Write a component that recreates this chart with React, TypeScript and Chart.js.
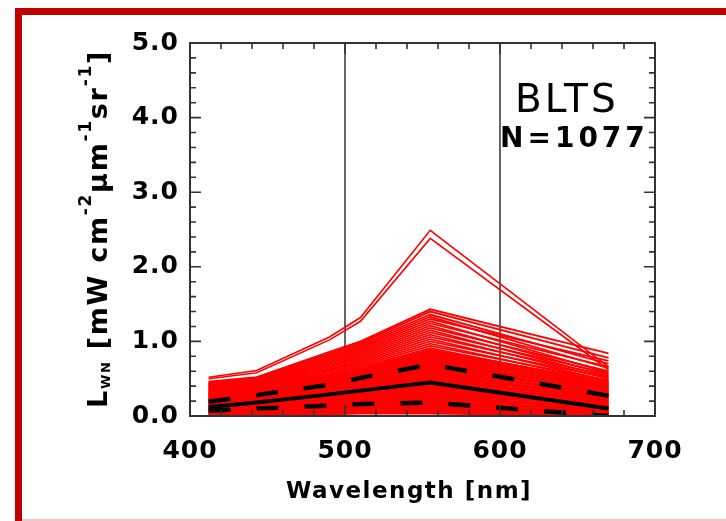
import { useEffect, useRef } from "react";
import { Chart, registerables } from "chart.js";
Chart.register(...registerables);

const W = 726;
const H = 521;

// SeaWiFS-like bands (nm)
const BANDS = [412, 443, 490, 510, 555, 670];
const X_TICKS = [400, 500, 600, 700];
const Y_TICKS = [0, 1, 2, 3, 4, 5];
const REF_LINES = [500, 600];

// statistics (black)
const MEAN = [0.12, 0.18, 0.29, 0.34, 0.45, 0.1];
const MEAN_PLUS_SD = [0.19, 0.28, 0.42, 0.51, 0.69, 0.27];
const MEAN_MINUS_SD = [0.07, 0.1, 0.14, 0.16, 0.18, 0.0];

// individual spectra (red)
const HIGH_SPECTRA = [
  [0.52, 0.61, 1.06, 1.32, 2.49, 0.66],
  [0.5, 0.58, 1.02, 1.27, 2.38, 0.62],
];
const UPPER_SPECTRA = [
  [0.46, 0.52, 0.86, 1.0, 1.43, 0.84],
  [0.45, 0.51, 0.84, 0.98, 1.4, 0.78],
  [0.44, 0.5, 0.82, 0.96, 1.36, 0.7],
  [0.43, 0.49, 0.8, 0.94, 1.33, 0.64],
  [0.42, 0.48, 0.78, 0.92, 1.3, 0.74],
  [0.42, 0.47, 0.76, 0.9, 1.27, 0.58],
  [0.41, 0.46, 0.75, 0.88, 1.24, 0.66],
  [0.4, 0.45, 0.73, 0.86, 1.21, 0.55],
  [0.4, 0.44, 0.71, 0.84, 1.18, 0.6],
  [0.39, 0.44, 0.7, 0.82, 1.15, 0.52],
  [0.38, 0.43, 0.68, 0.8, 1.12, 0.57],
  [0.38, 0.42, 0.67, 0.78, 1.09, 0.5],
  [0.37, 0.41, 0.65, 0.76, 1.06, 0.54],
  [0.36, 0.4, 0.63, 0.74, 1.03, 0.47],
  [0.36, 0.4, 0.62, 0.72, 1.0, 0.51],
  [0.35, 0.39, 0.6, 0.7, 0.97, 0.45],
  [0.34, 0.38, 0.58, 0.68, 0.94, 0.48],
  [0.33, 0.37, 0.56, 0.66, 0.91, 0.43],
];
const LOWER_SPECTRA = [
  [0.32, 0.36, 0.54, 0.63, 0.88, 0.45],
  [0.31, 0.35, 0.52, 0.61, 0.85, 0.41],
  [0.3, 0.34, 0.5, 0.59, 0.82, 0.43],
  [0.29, 0.33, 0.48, 0.57, 0.79, 0.39],
  [0.28, 0.31, 0.46, 0.55, 0.76, 0.4],
  [0.27, 0.3, 0.44, 0.53, 0.73, 0.36],
  [0.26, 0.29, 0.42, 0.51, 0.7, 0.37],
  [0.25, 0.28, 0.4, 0.49, 0.67, 0.33],
  [0.24, 0.27, 0.39, 0.47, 0.64, 0.34],
  [0.23, 0.26, 0.37, 0.45, 0.61, 0.3],
  [0.22, 0.25, 0.35, 0.43, 0.58, 0.31],
  [0.21, 0.24, 0.34, 0.41, 0.55, 0.27],
  [0.2, 0.23, 0.32, 0.39, 0.52, 0.28],
  [0.19, 0.22, 0.31, 0.37, 0.49, 0.24],
  [0.18, 0.21, 0.29, 0.35, 0.46, 0.25],
  [0.17, 0.2, 0.28, 0.33, 0.43, 0.21],
  [0.16, 0.19, 0.26, 0.31, 0.4, 0.22],
  [0.15, 0.18, 0.25, 0.29, 0.37, 0.18],
  [0.14, 0.17, 0.23, 0.27, 0.34, 0.19],
  [0.13, 0.16, 0.22, 0.25, 0.31, 0.15],
  [0.12, 0.15, 0.2, 0.23, 0.28, 0.16],
  [0.11, 0.14, 0.19, 0.21, 0.25, 0.12],
  [0.1, 0.12, 0.17, 0.19, 0.22, 0.13],
  [0.09, 0.11, 0.15, 0.17, 0.19, 0.09],
  [0.08, 0.1, 0.13, 0.15, 0.16, 0.1],
  [0.07, 0.08, 0.11, 0.13, 0.14, 0.06],
  [0.06, 0.07, 0.09, 0.11, 0.12, 0.07],
  [0.05, 0.06, 0.08, 0.09, 0.1, 0.04],
  [0.04, 0.05, 0.06, 0.07, 0.08, 0.05],
  [0.03, 0.04, 0.05, 0.06, 0.07, 0.02],
  [0.02, 0.03, 0.04, 0.05, 0.05, 0.03],
  [0.01, 0.02, 0.03, 0.04, 0.04, 0.01],
];

const LABEL_NAME = "BLTS";
const LABEL_N = "N=1077";
const X_TITLE = "Wavelength [nm]";

const FONT = "'DejaVu Sans', sans-serif";

const toPts = (vals: number[]) => BANDS.map((b, i) => ({ x: b, y: vals[i] }));

const redSet = (vals: number[], w: number) => ({
  data: toPts(vals),
  borderColor: "#ff0000",
  borderWidth: w,
  pointRadius: 0,
  tension: 0,
  order: 10,
});

const framePlugin = {
  id: "frameTicks",
  beforeDraw(chart: any) {
    chart.ctx.letterSpacing = "1px";
  },
  afterDatasetsDraw(chart: any) {
    const { ctx, chartArea: a, scales } = chart;
    const xs = scales.x;
    const ys = scales.y;
    ctx.save();
    ctx.strokeStyle = "#333";
    ctx.lineWidth = 1.6;
    ctx.beginPath();
    for (let v = 400; v <= 700; v += 20) {
      const px = xs.getPixelForValue(v);
      const len = X_TICKS.includes(v) ? 11 : 6;
      ctx.moveTo(px, a.bottom);
      ctx.lineTo(px, a.bottom - len);
      ctx.moveTo(px, a.top);
      ctx.lineTo(px, a.top + len);
    }
    for (let k = 0; k <= 25; k++) {
      const v = k * 0.2;
      const py = ys.getPixelForValue(v);
      const len = k % 5 === 0 ? 11 : 6;
      ctx.moveTo(a.left, py);
      ctx.lineTo(a.left + len, py);
      ctx.moveTo(a.right, py);
      ctx.lineTo(a.right - len, py);
    }
    ctx.stroke();
    ctx.lineWidth = 2;
    ctx.strokeRect(a.left, a.top, a.right - a.left, a.bottom - a.top);
    ctx.restore();
  },
  afterDraw(chart: any) {
    const { ctx } = chart;
    ctx.save();
    ctx.fillStyle = "#000";
    ctx.textBaseline = "alphabetic";
    ctx.textAlign = "left";
    ctx.letterSpacing = "3px";
    ctx.font = `39px ${FONT}`;
    ctx.fillText(LABEL_NAME, 515, 112);
    ctx.font = `bold 28px ${FONT}`;
    ctx.letterSpacing = "4px";
    ctx.fillText(LABEL_N, 500, 147);

    // x title
    ctx.font = `bold 23px ${FONT}`;
    ctx.letterSpacing = "1.5px";
    ctx.textAlign = "center";
    ctx.fillText(X_TITLE, 409, 498);

    // y title (rotated)
    const segs = [
      { t: "L", s: 27, dy: 0, b: true },
      { t: "WN", s: 13, dy: 3, b: true },
      { t: " [mW cm", s: 27, dy: 0, b: true },
      { t: "-2", s: 17, dy: -16, b: true },
      { t: "\u03bcm", s: 27, dy: 0, b: true },
      { t: "-1", s: 17, dy: -16, b: true },
      { t: "sr", s: 27, dy: 0, b: true },
      { t: "-1", s: 17, dy: -16, b: true },
      { t: "]", s: 27, dy: 0, b: true },
    ];
    const target = 408 - 50;
    ctx.letterSpacing = "0px";
    let natural = 0;
    let nChars = 0;
    for (const s of segs) {
      ctx.font = `${s.b ? "bold " : ""}${s.s}px ${FONT}`;
      natural += ctx.measureText(s.t).width;
      nChars += s.t.length;
    }
    const sp = Math.max(0, (target - natural) / nChars);
    ctx.translate(107, 408);
    ctx.rotate(-Math.PI / 2);
    ctx.textAlign = "left";
    let x = 0;
    for (const s of segs) {
      ctx.font = `${s.b ? "bold " : ""}${s.s}px ${FONT}`;
      ctx.letterSpacing = `${sp}px`;
      ctx.fillText(s.t, x, s.dy);
      ctx.letterSpacing = "0px";
      x += ctx.measureText(s.t).width + sp * s.t.length;
    }
    ctx.restore();
  },
};

export default function App() {
  const ref = useRef<HTMLCanvasElement>(null);
  useEffect(() => {
    const datasets: any[] = [
      {
        data: toPts(MEAN),
        borderColor: "#000",
        borderWidth: 4,
        pointRadius: 0,
        order: 0,
      },
      {
        data: toPts(MEAN_PLUS_SD),
        borderColor: "#000",
        borderWidth: 4.5,
        borderDash: [22, 26],
        pointRadius: 0,
        order: 0,
      },
      {
        data: toPts(MEAN_MINUS_SD),
        borderColor: "#000",
        borderWidth: 4.5,
        borderDash: [22, 26],
        pointRadius: 0,
        order: 0,
      },
      ...HIGH_SPECTRA.map((s) => redSet(s, 1.6)),
      ...UPPER_SPECTRA.map((s) => redSet(s, 1.8)),
      ...LOWER_SPECTRA.map((s) => redSet(s, 3)),
      ...REF_LINES.map((v) => ({
        data: [
          { x: v, y: Y_TICKS[0] },
          { x: v, y: Y_TICKS[Y_TICKS.length - 1] },
        ],
        borderColor: "#333",
        borderWidth: 1.5,
        pointRadius: 0,
        order: 20,
      })),
    ];
    const chart = new Chart(ref.current!, {
      type: "line",
      data: { datasets },
      plugins: [framePlugin],
      options: {
        animation: false,
        responsive: false,
        devicePixelRatio: 1,
        layout: { padding: { top: 43, right: 71, left: 0, bottom: 0 } },
        plugins: { legend: { display: false }, tooltip: { enabled: false } },
        scales: {
          x: {
            type: "linear",
            min: X_TICKS[0],
            max: X_TICKS[X_TICKS.length - 1],
            afterBuildTicks: (s: any) => {
              s.ticks = X_TICKS.map((v) => ({ value: v }));
            },
            afterFit: (s: any) => {
              s.height = 105;
            },
            ticks: {
              font: { family: FONT, size: 25, weight: "bold" },
              color: "#000",
              padding: 20,
              maxRotation: 0,
            },
            grid: { display: false, drawTicks: false },
            border: { display: false },
          },
          y: {
            type: "linear",
            min: Y_TICKS[0],
            max: Y_TICKS[Y_TICKS.length - 1],
            afterBuildTicks: (s: any) => {
              s.ticks = Y_TICKS.map((v) => ({ value: v }));
            },
            afterFit: (s: any) => {
              s.width = 190;
            },
            ticks: {
              font: { family: FONT, size: 25, weight: "bold" },
              color: "#000",
              padding: 11,
              callback: (v: any) => Number(v).toFixed(1),
            },
            grid: { display: false, drawTicks: false },
            border: { display: false },
          },
        },
      },
    } as any);
    return () => chart.destroy();
  }, []);
  return (
    <div
      style={{
        position: "fixed",
        left: 0,
        top: 0,
        width: W,
        height: H,
        background: "#fff",
        overflow: "hidden",
      }}
    >
      <canvas
        ref={ref}
        width={W}
        height={H}
        style={{ position: "absolute", left: 0, top: 0, width: W, height: H }}
      />
      <div
        style={{
          position: "absolute",
          left: 15,
          top: 8,
          width: 800,
          height: 700,
          borderLeft: "7px solid #c00000",
          borderTop: "7px solid #c00000",
          boxSizing: "border-box",
          pointerEvents: "none",
        }}
      />
      <div
        style={{
          position: "absolute",
          left: 22,
          top: 519,
          width: 800,
          height: 2,
          background: "#f5c4c4",
        }}
      />
    </div>
  );
}
